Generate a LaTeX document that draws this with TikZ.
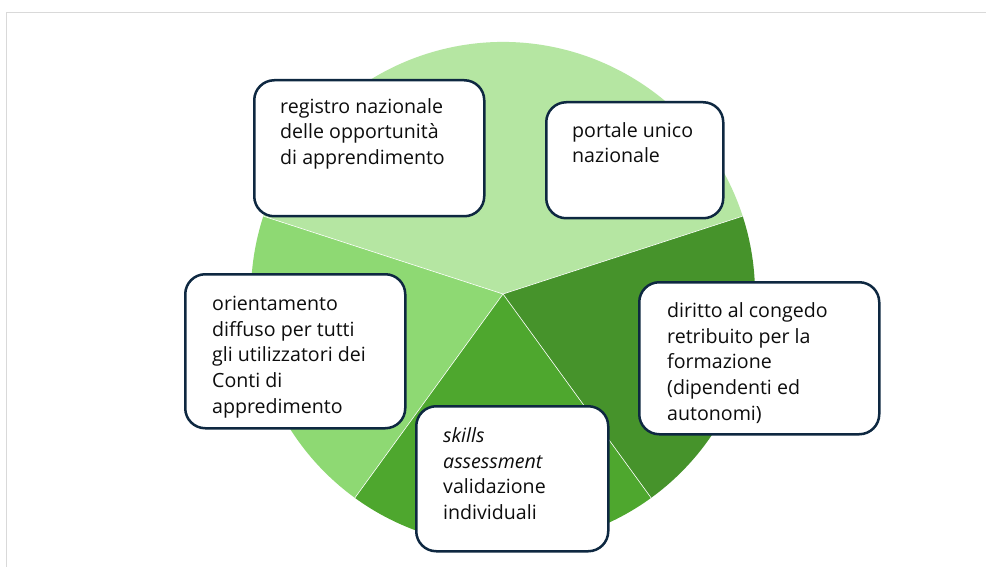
\documentclass[tikz,border=0pt]{standalone}
\usepackage{fontspec}
\setmainfont{Open Sans}
\usetikzlibrary{calc}
\definecolor{frame}{HTML}{D9D9D9}
\definecolor{segA}{HTML}{B5E6A2}
\definecolor{segB}{HTML}{8ED973}
\definecolor{segC}{HTML}{4EA72E}
\definecolor{segD}{HTML}{46932B}
\definecolor{boxline}{HTML}{0E2841}
\definecolor{ink}{HTML}{0D0D0D}
\begin{document}
\begin{tikzpicture}[x=1pt,y=-1pt,
  card/.style={draw=boxline, line width=2.5pt, fill=white, rounded corners=20pt,
    inner sep=0pt, anchor=north west},
  cardtext/.style={anchor=north west, inner sep=0pt, align=left, text=ink,
    font=\fontsize{19.6}{25.8}\selectfont},
  sep/.style={white, line width=0.6pt}]
\useasboundingbox (0,0) rectangle (986,567);
\fill[white] (0,0) rectangle (986,567);
% outer frame (top and left edges)
\draw[frame, line width=1.5pt] (986,12.5) -- (6.5,12.5) -- (6.5,567);

% pie sectors
\coordinate (c) at (503,294);
\def\R{252}
\fill[segA] (c) -- ++(-18:\R) arc[start angle=-18, end angle=-162, radius=\R] -- cycle;
\fill[segB] (c) -- ++(-162:\R) arc[start angle=-162, end angle=-234, radius=\R] -- cycle;
\fill[segC] (c) -- ++(-234:\R) arc[start angle=-234, end angle=-306, radius=\R] -- cycle;
\fill[segD] (c) -- ++(-306:\R) arc[start angle=-306, end angle=-378, radius=\R] -- cycle;
\foreach \a in {-18,-162,-234,-306}
  \draw[sep] (c) -- ++(\a:\R);

% cards
\node[card, minimum width=230pt, minimum height=136pt] (b1) at (253,79) {};
\node[card, minimum width=177pt, minimum height=116pt] (b2) at (545,101) {};
\node[card, minimum width=220pt, minimum height=154pt] (b3) at (184,273) {};
\node[card, minimum width=240pt, minimum height=152pt] (b4) at (638,281) {};
\node[card, minimum width=192pt, minimum height=145pt] (b5) at (415,405) {};

\node[cardtext] (t1) at ($(b1.north west)+(27,18)$)
  {\rule{0pt}{16pt}registro nazionale\\delle opportunità\\di apprendimento};
\node[cardtext] (t2) at ($(b2.north west)+(27,20)$)
  {\rule{0pt}{16pt}portale unico\\nazionale};
\node[cardtext] (t3) at ($(b3.north west)+(28,21)$)
  {\rule{0pt}{16pt}orientamento\\diffuso per tutti\\gli utilizzatori dei\\Conti di\\appredimento};
\node[cardtext] (t4) at ($(b4.north west)+(29,20)$)
  {\rule{0pt}{16pt}diritto al congedo\\retribuito per la\\formazione\\(dipendenti ed\\autonomi)};
\node[cardtext] (t5) at ($(b5.north west)+(28,21)$)
  {\rule{0pt}{16pt}\textit{skills}\\\textit{assessment}\\validazione\\individuali};
\end{tikzpicture}
\end{document}
